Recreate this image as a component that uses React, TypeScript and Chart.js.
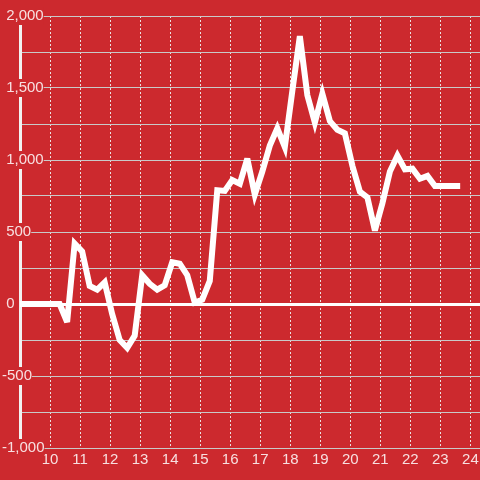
import React, { useEffect, useRef } from "react";
import { Chart, registerables } from "chart.js";

Chart.register(...registerables);

const xValues: number[] = [
  9, 10.32, 10.57, 10.82, 11.07, 11.32, 11.57, 11.82, 12.07, 12.32, 12.57, 12.82,
  13.07, 13.32, 13.57, 13.82, 14.07, 14.32, 14.57, 14.82, 15.07, 15.32, 15.57,
  15.82, 16.07, 16.32, 16.57, 16.82, 17.07, 17.32, 17.57, 17.82, 18.07, 18.32,
  18.57, 18.82, 19.07, 19.32, 19.57, 19.82, 20.07, 20.32, 20.57, 20.82, 21.07,
  21.32, 21.57, 21.82, 22.07, 22.32, 22.57, 22.82, 23.07, 23.32, 23.66,
];

const yValues: number[] = [
  0, 0, -125, 420, 365, 125, 100, 150, -70, -250, -305, -220,
  200, 140, 100, 130, 290, 280, 200, 10, 30, 160, 790,
  785, 860, 835, 1010, 760, 920, 1100, 1220, 1090, 1480, 1860,
  1450, 1260, 1460, 1270, 1210, 1185, 960, 780, 740, 510, 700,
  920, 1030, 935, 940, 870, 890, 820, 820, 820, 820,
];

const xTickValues: number[] = [10, 11, 12, 13, 14, 15, 16, 17, 18, 19, 20, 21, 22, 23, 24];
const yLabelledValues: number[] = [-1000, -500, 0, 500, 1000, 1500, 2000];

const BG = "#cc292e";
const LABEL = "rgba(255,255,255,0.85)";
const FONT = { family: "'Liberation Sans', Arial, sans-serif", size: 15 };

const miterPlugin = {
  id: "miterLimit",
  beforeDatasetsDraw: (chart: any) => {
    chart.ctx.miterLimit = 4;
  },
};

export default function App() {
  const ref = useRef<HTMLCanvasElement | null>(null);

  useEffect(() => {
    document.body.style.margin = "0";
    document.body.style.background = BG;
    if (!ref.current) return;
    const points = xValues.map((x, i) => ({ x, y: yValues[i] }));
    const chart = new Chart(ref.current, {
      type: "line",
      data: {
        datasets: [
          {
            data: points,
            borderColor: "#ffffff",
            borderWidth: 6,
            pointRadius: 0,
            pointHoverRadius: 0,
            tension: 0,
            fill: false,
            borderJoinStyle: "miter",
          },
        ],
      },
      plugins: [miterPlugin],
      options: {
        animation: false,
        responsive: false,
        maintainAspectRatio: false,
        events: [],
        layout: { padding: { left: 6, top: 16, right: 0, bottom: 0 } },
        plugins: { legend: { display: false }, tooltip: { enabled: false } },
        scales: {
          x: {
            type: "linear",
            min: 9,
            max: 24.32,
            afterBuildTicks: (scale: any) => {
              scale.ticks = xTickValues.map((v) => ({ value: v }));
            },
            afterFit: (scale: any) => {
              scale.height = 32;
            },
            grid: {
              color: "rgba(235,235,235,0.95)",
              lineWidth: 1,
              drawTicks: true,
              tickLength: 3,
              tickColor: "transparent",
            },
            border: { display: false, dash: [2, 2] },
            ticks: {
              color: LABEL,
              font: FONT,
              padding: 0,
              autoSkip: false,
              maxRotation: 0,
              callback: (v: any) => String(v),
            },
          },
          y: {
            type: "linear",
            min: -1000,
            max: 2000,
            afterFit: (scale: any) => {
              scale.width = 14;
            },
            grid: {
              color: (ctx: any) => (ctx.tick && ctx.tick.value === 0 ? "#ffffff" : "#c9c9c9"),
              lineWidth: (ctx: any) => (ctx.tick && ctx.tick.value === 0 ? 3 : 1),
              drawTicks: false,
            },
            border: { display: true, color: "#f2f2f2", width: 3 },
            ticks: {
              stepSize: 250,
              color: LABEL,
              font: FONT,
              mirror: true,
              crossAlign: "near",
              padding: -18,
              showLabelBackdrop: true,
              backdropColor: BG,
              backdropPadding: 0,
              autoSkip: false,
              callback: (v: any) => {
                const n = Number(v);
                if (!yLabelledValues.includes(n)) return "";
                const s = n.toLocaleString("en-US");
                return n < 0 ? s : "\u2008" + s;
              },
            },
          },
        },
      },
    } as any);
    return () => chart.destroy();
  }, []);

  return (
    <div style={{ width: 480, height: 480, background: BG }}>
      <canvas ref={ref} width={480} height={480} style={{ display: "block" }} />
    </div>
  );
}
